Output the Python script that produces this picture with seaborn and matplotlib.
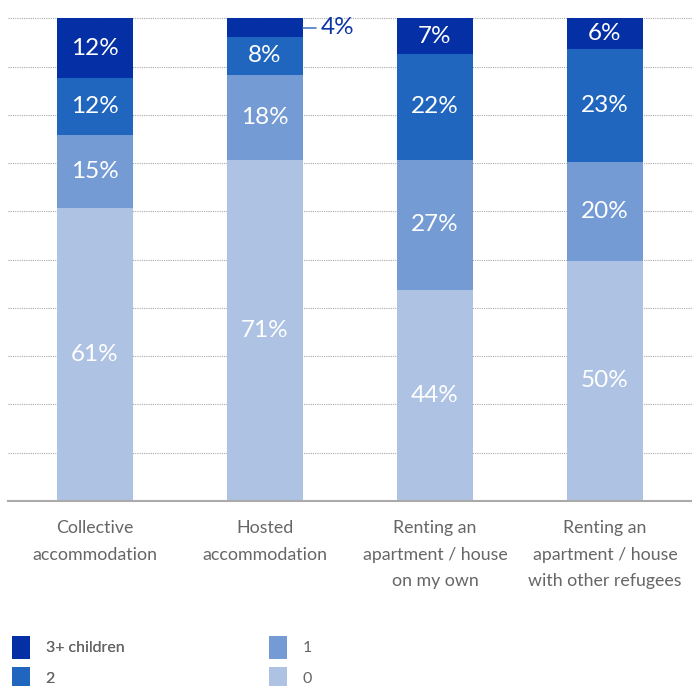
import matplotlib
matplotlib.use("Agg")
import matplotlib.pyplot as plt
import seaborn as sns
import pandas as pd
import numpy as np
from matplotlib.patches import Patch

categories = ["Collective\naccommodation", "Hosted\naccommodation",
              "Renting an\napartment / house\non my own",
              "Renting an\napartment / house\nwith other refugees"]
zero = [60.7, 70.6, 43.8, 49.8]
one = [15.1, 17.7, 26.9, 20.4]
two = [11.8, 7.9, 21.9, 23.4]
three_plus = [12.4, 3.8, 7.4, 6.4]
colors = {"3+ children": "#0530a5", "2": "#2166be", "1": "#759bd4", "0": "#aec3e4"}

sns.set_theme(style="white")
plt.rcParams['font.family'] = ['Lato', 'DejaVu Sans']

fig = plt.figure(figsize=(6.92, 6.86), dpi=100)
W, H = 692, 686
ax = fig.add_axes([8 / W, (H - 501) / H, (692 - 8) / W, (501 - 17) / H])

segs = [zero, one, two, three_plus]   # bottom to top
seg_names = ["0", "1", "2", "3+ children"]
cum = np.cumsum(np.array(segs), axis=0)

# draw cumulative bars from tallest to shortest (stacked look)
for i in range(len(segs) - 1, -1, -1):
    df = pd.DataFrame({"cat": categories, "val": cum[i]})
    sns.barplot(data=df, x="cat", y="val", color=colors[seg_names[i]],
                width=0.447, ax=ax, saturation=1, zorder=3, linewidth=0)

# labels
for j in range(len(categories)):
    for i in range(len(segs)):
        v = segs[i][j]
        bottom = cum[i][j] - v
        mid = bottom + v / 2
        txt = f"{round(v)}%"
        if v < 5:
            ax.plot([j + 0.447 / 2, j + 0.447 / 2 + 0.075], [mid, mid],
                    color="#4a78c6", lw=1.2, zorder=4, clip_on=False)
            ax.text(j + 0.447 / 2 + 0.105, mid, txt, ha="left", va="center",
                    color="#0a35a5", fontsize=17.5, zorder=5)
        else:
            ax.text(j, mid, txt, ha="center", va="center", color="white",
                    fontsize=17.5, zorder=5)

ax.set_xlim(-0.512, 3.512)
ax.set_ylim(0, 100.3)
ax.set_yticks(np.arange(10, 101, 10))
ax.set_yticklabels([])
ax.yaxis.grid(True, linestyle=(0, (1, 1)), color="#aaaaaa", linewidth=0.8)
ax.xaxis.grid(False)
ax.set_axisbelow(True)
for s in ["top", "right", "left"]:
    ax.spines[s].set_visible(False)
ax.spines["bottom"].set_color("#aaaaaa")
ax.spines["bottom"].set_linewidth(1.5)
ax.spines["bottom"].set_zorder(6)
ax.set_xlabel("")
ax.set_ylabel("")
ax.tick_params(axis="x", length=0, pad=14, labelsize=12.8, labelcolor="#666666")
ax.tick_params(axis="y", length=0)
for lbl in ax.get_xticklabels():
    lbl.set_linespacing(1.78)

# legend, two columns
def mk(names, x):
    handles = [Patch(facecolor=colors[n], edgecolor="none") for n in names]
    leg = fig.legend(handles, names, loc="upper left",
                     bbox_to_anchor=(x / W, (H - 636) / H),
                     frameon=False, fontsize=11.5, handlelength=1.1,
                     handleheight=1.8, labelspacing=0.5, handletextpad=1.0,
                     borderpad=0, borderaxespad=0)
    for t in leg.get_texts():
        t.set_color("#666666")
    return leg

leg1 = mk(["3+ children", "2"], 12)
mk(["1", "0"], 269)
fig.add_artist(leg1)

fig.savefig("out.png", dpi=100)
